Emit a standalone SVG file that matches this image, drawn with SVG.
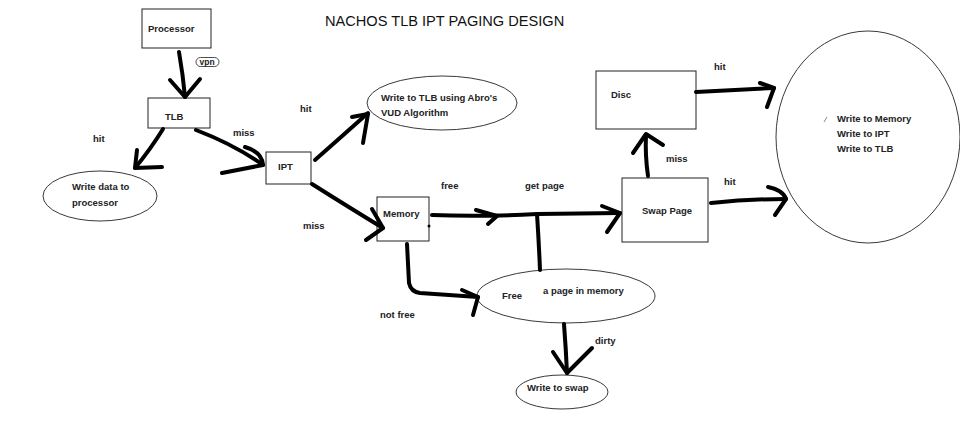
<svg xmlns="http://www.w3.org/2000/svg" width="960" height="433" viewBox="0 0 960 433">
<style>
.box{fill:#fff;stroke:#222;stroke-width:1}
.ell{fill:#fff;stroke:#222;stroke-width:0.9}
.t{font-family:"Liberation Sans",Arial,sans-serif;font-weight:bold;font-size:9.5px;fill:#222}
.title{font-family:"Liberation Sans",Arial,sans-serif;font-size:14.6px;fill:#111}
.w{fill:none;stroke:#000;stroke-width:4;stroke-linecap:round;stroke-linejoin:round}
</style>
<rect width="960" height="433" fill="#fff"/>
<text class="title" x="325" y="26">NACHOS TLB IPT PAGING DESIGN</text>

<g id="processor"><rect class="box" x="142" y="9" width="69" height="39"/><text class="t" x="148" y="32">Processor</text></g>
<g id="tlb"><rect class="box" x="148" y="98" width="62" height="30"/><text class="t" x="165" y="120">TLB</text></g>
<g id="write-data"><ellipse class="ell" cx="100" cy="196" rx="57" ry="25"/><text class="t" x="72" y="190">Write data to</text><text class="t" x="72" y="206">processor</text></g>
<g id="ipt"><rect class="box" x="266" y="152" width="45" height="32"/><text class="t" x="278" y="170">IPT</text></g>
<g id="write-tlb"><ellipse class="ell" cx="442" cy="103" rx="75" ry="27"/><text class="t" x="381" y="101">Write to TLB using Abro's</text><text class="t" x="381" y="116">VUD Algorithm</text></g>
<g id="memory"><rect class="box" x="377" y="197" width="52" height="44"/><text class="t" x="383" y="217">Memory</text><circle cx="429" cy="226" r="1.5" fill="#000"/></g>
<g id="free-page"><ellipse class="ell" cx="566" cy="296" rx="89" ry="27"/><text class="t" x="502" y="299">Free</text><text class="t" x="543" y="294">a page in memory</text></g>
<g id="write-swap"><ellipse class="ell" cx="562" cy="392" rx="46" ry="17"/><text class="t" x="527" y="391">Write to swap</text></g>
<g id="disc"><rect class="box" x="596" y="71" width="100" height="58"/><text class="t" x="611" y="98">Disc</text></g>
<g id="swap-page"><rect class="box" x="622" y="178" width="86" height="64"/><text class="t" x="642" y="214">Swap Page</text></g>
<g id="write-all"><ellipse class="ell" cx="868" cy="137" rx="92" ry="106"/><line x1="824" y1="122" x2="827" y2="117" stroke="#666" stroke-width="0.8"/><text class="t" x="837" y="122">Write to Memory</text><text class="t" x="837" y="137">Write to IPT</text><text class="t" x="837" y="152">Write to TLB</text></g>

<g id="connectors">
<path class="w" d="M179 52 Q183 75 185 97"/>
<path class="w" d="M170 80 L185 97 L200 79"/>
<path class="w" d="M163 129 Q150 150 135 168"/>
<path class="w" d="M137 150 L135 168 L162 167"/>
<path class="w" d="M196 130 Q235 145 263 165"/>
<path class="w" d="M245 147 Q262 152 263 165 L222 173"/>
<path class="w" d="M315 160 Q340 138 368 113"/>
<path class="w" d="M352 117 L368 114 L363 143"/>
<path class="w" d="M312 184 Q350 208 383 228"/>
<path class="w" d="M372 209 L383 228 L366 240"/>
<path class="w" d="M432 215 Q480 217 537 214 L620 213"/>
<path class="w" d="M476 210 L497 216 L488 224"/>
<path class="w" d="M602 206 L620 213 L607 232"/>
<path class="w" d="M537 214 Q539 245 540 270"/>
<path class="w" d="M407 244 L409 283 Q411 292 420 293 L478 297"/>
<path class="w" d="M462 290 L478 297 L473 315"/>
<path class="w" d="M564 324 Q566 350 567 373"/>
<path class="w" d="M553 352 L567 373 L592 348"/>
<path class="w" d="M648 176 Q645 155 646 135"/>
<path class="w" d="M633 153 L646 134 L663 145"/>
<path class="w" d="M696 92 Q735 90 774 88"/>
<path class="w" d="M760 83 L774 88 L767 107"/>
<path class="w" d="M711 203 Q750 199 786 199"/>
<path class="w" d="M768 187 Q783 190 786 199 L775 215"/>
</g>

<g id="labels">
<rect x="196" y="57.5" width="23" height="9" rx="4.5" fill="#fff" stroke="#222" stroke-width="0.8"/>
<text class="t" x="199.5" y="64.8" style="font-size:8.5px">vpn</text>
<text class="t" x="93" y="142">hit</text>
<text class="t" x="233" y="136">miss</text>
<text class="t" x="300" y="112">hit</text>
<text class="t" x="303" y="229">miss</text>
<text class="t" x="441" y="189">free</text>
<text class="t" x="525" y="189">get page</text>
<text class="t" x="380" y="318">not free</text>
<text class="t" x="595" y="344">dirty</text>
<text class="t" x="714" y="70">hit</text>
<text class="t" x="666" y="162">miss</text>
<text class="t" x="724" y="185">hit</text>
</g>
</svg>
